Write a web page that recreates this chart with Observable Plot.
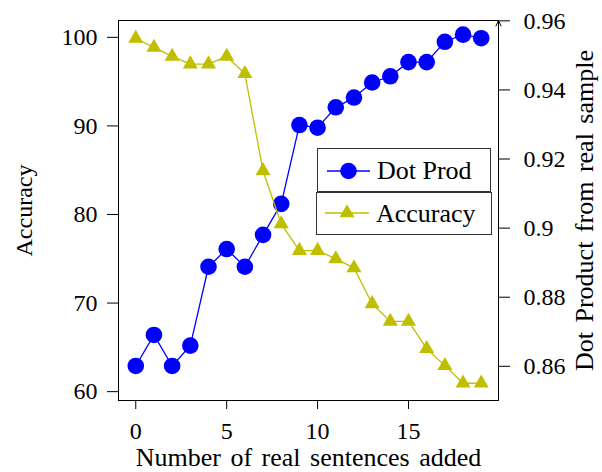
<!DOCTYPE html>
<html><head><meta charset="utf-8">
<script src="https://cdn.jsdelivr.net/npm/d3@7"></script>
<script src="https://cdn.jsdelivr.net/npm/@observablehq/plot@0.6"></script>
<style>
body{margin:0;background:#fff;}
#wrap{position:relative;width:602px;height:472px;font-family:"Liberation Serif",serif;}
#wrap svg.leg{position:absolute;left:0;top:0;}
</style></head><body><div id="wrap"></div>
<script>
const sentences = [0,1,2,3,4,5,6,7,8,9,10,11,12,13,14,15,16,17,18,19];
const dotProd = [62.9,66.4,62.9,65.2,74.1,76.1,74.1,77.7,81.2,90.1,89.8,92.1,93.2,94.9,95.6,97.2,97.2,99.5,100.3,99.9];
const accuracy = [0.9549,0.9523,0.9497,0.9475,0.9475,0.9497,0.9447,0.9166,0.9012,0.8935,0.8935,0.8911,0.8885,0.8781,0.8730,0.8730,0.8651,0.8602,0.8551,0.8551];
const xTicks = [0,5,10,15];
const leftTicks = [60,70,80,90,100];
const rightTicks = [0.86,0.88,0.9,0.92,0.94,0.96];
const seriesNames = ["Dot Prod","Accuracy"];
const xLabel = "Number of real sentences added";
const leftLabel = "Accuracy";
const rightLabel = "Dot Product from real sample";

const BLUE = "#0000ff", OLIVE = "#bfbf00";
const xDomain = [-0.95, 19.95];
const leftDomain = [59.0, 101.9];
const rightDomain = [0.8501, 0.9601];
const r2l = d3.scaleLinear().domain(rightDomain).range(leftDomain);

const rows = sentences.map((s,i) => ({x:s, dot:dotProd[i], acc:r2l(accuracy[i])}));
const fmtR = d3.format(".2~f");

const plot = Plot.plot({
  width:602, height:472,
  marginLeft:118, marginRight:104, marginTop:20, marginBottom:72,
  style:{fontFamily:"Liberation Serif", fontSize:"24px", color:"#000", background:"#fff"},
  x:{domain:xDomain},
  y:{domain:leftDomain},
  marks:[
    Plot.axisX(xTicks, {tickSize:9, tickPadding:12, label:null, fontSize:24}),
    Plot.axisY(leftTicks, {anchor:"left", tickSize:11, tickPadding:10, label:null, fontSize:24}),
    Plot.axisY(rightTicks.map(r2l), {anchor:"right", tickSize:11, tickPadding:14, label:null, fontSize:24,
      tickFormat: d => fmtR(r2l.invert(d))}),
    Plot.ruleY([leftDomain[1]], {stroke:"#000"}),
    Plot.ruleY([leftDomain[0]], {stroke:"#000"}),
    Plot.ruleX([xDomain[0]], {stroke:"#000"}),
    Plot.arrow([{x:xDomain[1], y1:leftDomain[0], y2:leftDomain[1]}], {x1:"x", x2:"x", y1:"y1", y2:"y2", stroke:"#000", strokeWidth:1, headLength:9, headAngle:50}),
    Plot.line(rows, {x:"x", y:"dot", stroke:BLUE, strokeWidth:1.3}),
    Plot.dot(rows, {x:"x", y:"dot", r:8.3, fill:BLUE}),
    Plot.line(rows, {x:"x", y:"acc", stroke:OLIVE, strokeWidth:1.3}),
    Plot.dot(rows, {x:"x", y:"acc", symbol:"triangle", r:5.6, fill:OLIVE}),
    Plot.text([xLabel], {frameAnchor:"bottom", dy:57, lineAnchor:"middle", textAnchor:"middle", fontSize:26, style:"word-spacing:3px"}),
    Plot.text([leftLabel], {frameAnchor:"left", rotate:-90, dx:-94, lineAnchor:"middle", textAnchor:"middle", fontSize:24}),
    Plot.text([rightLabel], {frameAnchor:"right", rotate:-90, dx:86, lineAnchor:"middle", textAnchor:"middle", fontSize:26})
  ]
});
const wrap = document.getElementById("wrap");
wrap.appendChild(plot);
d3.select(plot).selectAll("text").filter(function(){ return this.textContent.includes(" "); }).attr("word-spacing", "3px");

// legend (two stacked boxes)
const leg = d3.select(wrap).append("svg").attr("class","leg").attr("width",602).attr("height",472);
const boxes = [
  {name:seriesNames[0], color:BLUE, sym:"circle", bx:317.5, by:148.5, bw:173, bh:43, lx1:327, lx2:370, ly:171, tx:377, ty:179},
  {name:seriesNames[1], color:OLIVE, sym:"triangle", bx:316.5, by:192.5, bw:175, bh:42, lx1:325, lx2:369, ly:213, tx:376, ty:222}
];
boxes.forEach(b => {
  const g = leg.append("g");
  g.append("rect").attr("x",b.bx).attr("y",b.by).attr("width",b.bw).attr("height",b.bh).attr("fill","#fff").attr("stroke","#333").attr("stroke-width",1);
  g.append("line").attr("x1",b.lx1).attr("x2",b.lx2).attr("y1",b.ly).attr("y2",b.ly).attr("stroke",b.color).attr("stroke-width",1.3);
  const cx = (b.lx1+b.lx2)/2;
  if (b.sym==="circle") g.append("circle").attr("cx",cx).attr("cy",b.ly).attr("r",8.3).attr("fill",b.color);
  else g.append("path").attr("d", d3.symbol(d3.symbolTriangle, Math.PI*5.6*5.6)()).attr("transform",`translate(${cx},${b.ly})`).attr("fill",b.color);
  g.append("text").attr("x",b.tx).attr("y",b.ty).attr("font-family","Liberation Serif").attr("font-size",26).text(b.name);
});
</script></body></html>
